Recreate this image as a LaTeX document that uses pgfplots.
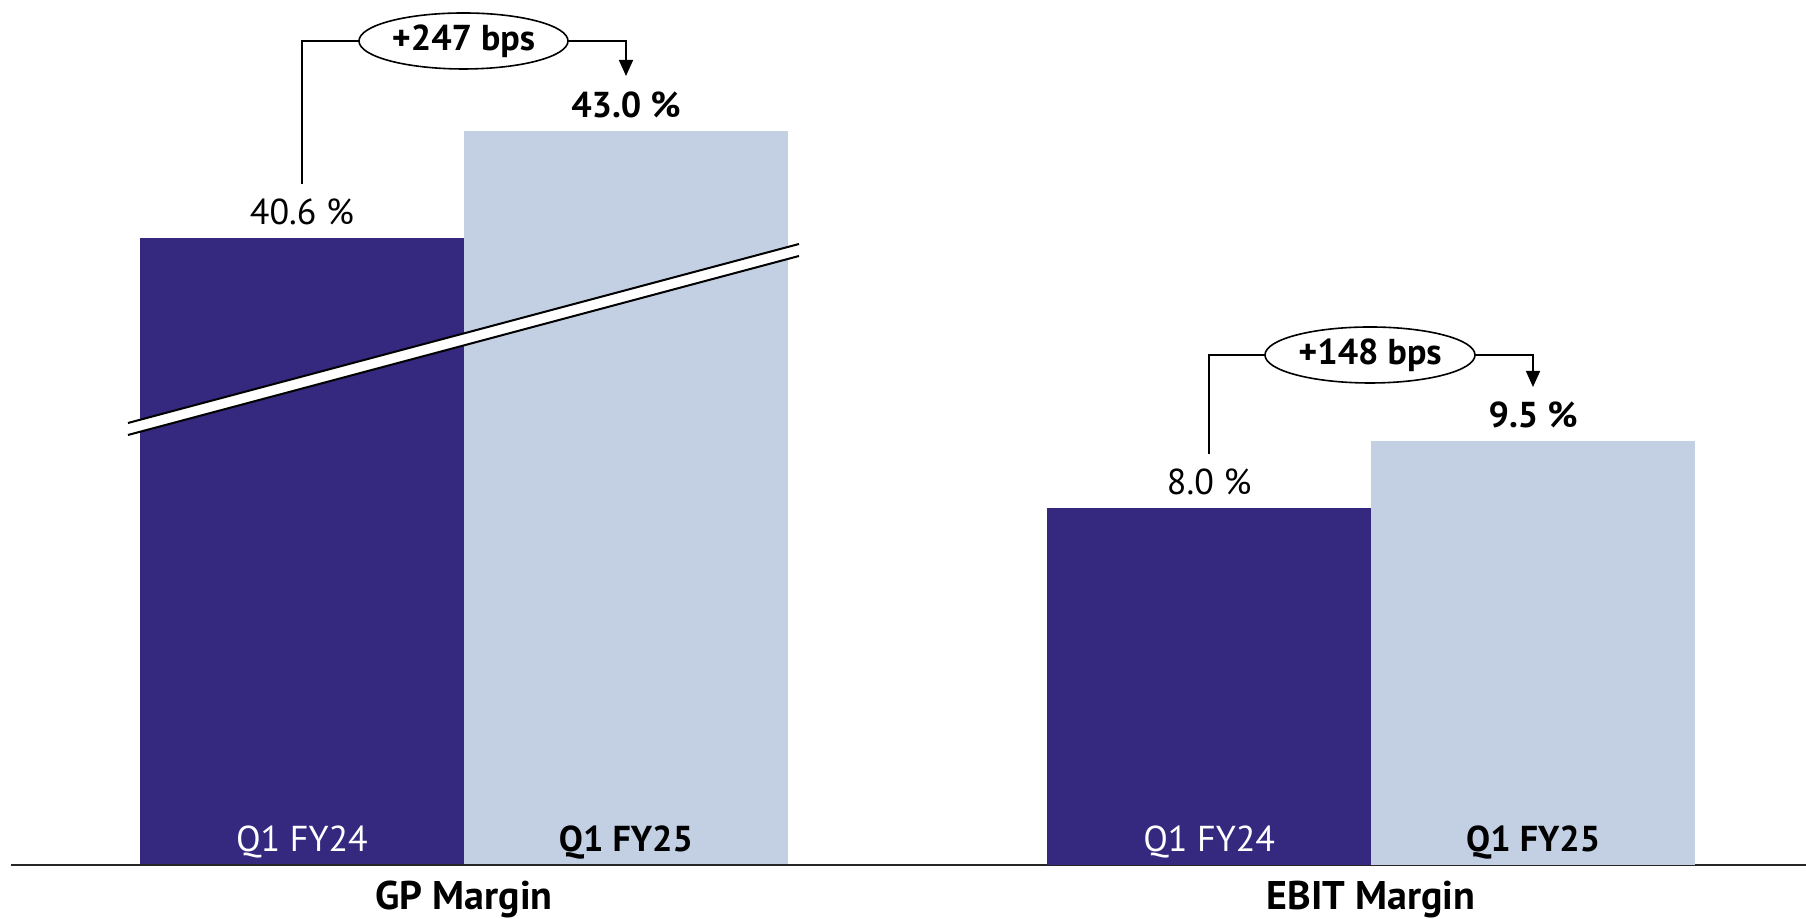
\documentclass[border=0pt]{standalone}
\usepackage{fontspec}
\setmainfont{PT Sans}
\usepackage{pgfplots}
\pgfplotsset{compat=1.18}
\usetikzlibrary{arrows.meta}
\definecolor{darkp}{HTML}{35287F}
\definecolor{lightb}{HTML}{C3CFE2}
\newcommand{\fs}{\fontsize{18}{22}\selectfont}
\newcommand{\fl}{\fontsize{20}{24}\selectfont}

\pgfplotsset{
  base/.style={
    scale only axis, width=897.5pt, height=432.5pt,
    at={(5.5pt,27pt)}, anchor=south west,
    xmin=-0.898, xmax=4.642,
    ybar, bar width=1, /pgf/bar shift=0pt,
    ytick=\empty,
    major tick length=0pt,
    font=\fs,
    nodes near coords={\pgfmathprintnumber[fixed,precision=1,fixed zerofill,assume math mode=true]{\pgfplotspointmeta}~\%},
    every node near coord/.append style={anchor=base, inner sep=0pt, yshift=6.7pt, text=black, font=\fs},
  },
  fy24/.style={fill=darkp, draw=none},
  fy25/.style={fill=lightb, draw=none, every node near coord/.append style={font=\fs\bfseries}},
}

\begin{document}
\begin{tikzpicture}[x=1pt,y=1pt]
\useasboundingbox (0,0) rectangle (903,459.5);

% GP Margin (broken axis: same scale, offset baseline)
\begin{axis}[base, hide axis, ymin=26.54, ymax=45.935]
  \addplot[fy24] coordinates {(0,40.6)};
  \addplot[fy25] coordinates {(1,43.0)};
\end{axis}

% EBIT Margin
\begin{axis}[base, ymin=0, ymax=19.395,
    axis x line*=bottom, axis y line=none,
    axis line style={line width=1pt, black!85},
    xtick={0.5,3.3}, xticklabels={GP Margin, EBIT Margin},
    xticklabel style={font=\fl\bfseries, anchor=base, yshift=-22.5pt}]
  \addplot[fy24] coordinates {(2.8,8.0)};
  \addplot[fy25] coordinates {(3.8,9.5)};
  \node[anchor=base, text=white, font=\fs] at (axis cs:0,0) [yshift=6.5pt] {Q1 FY24};
  \node[anchor=base, text=black, font=\fs\bfseries] at (axis cs:1,0) [yshift=6.5pt] {Q1 FY25};
  \node[anchor=base, text=white, font=\fs] at (axis cs:2.8,0) [yshift=6.5pt] {Q1 FY24};
  \node[anchor=base, text=black, font=\fs\bfseries] at (axis cs:3.8,0) [yshift=6.5pt] {Q1 FY25};
\end{axis}

% decorations in reference pixel coordinates
\begin{scope}[x=0.5pt, y=-0.5pt, shift={(0,459.5pt)}]
  % axis break band
  \fill[white] (128,423) -- (799,244) -- (799,256) -- (128,435) -- cycle;
  \draw[line width=1pt] (128,423) -- (799,244);
  \draw[line width=1pt] (128,435) -- (799,256);
  % GP bracket
  \draw[line width=0.8pt] (302,184) -- (302,41) -- (359,41);
  \draw[line width=0.8pt, -{Triangle[width=7pt,length=8pt]}] (568,41) -- (626,41) -- (626,76);
  \draw[line width=0.8pt, fill=white] (463.5,41) ellipse [x radius=52.25pt, y radius=14pt];
  \node[font=\fs\bfseries] at (463.5,41) {+247 bps};
  % EBIT bracket
  \draw[line width=0.8pt] (1209,454) -- (1209,355) -- (1265,355);
  \draw[line width=0.8pt, -{Triangle[width=7pt,length=8pt]}] (1475,355) -- (1533,355) -- (1533,387);
  \draw[line width=0.8pt, fill=white] (1370,355) ellipse [x radius=52.5pt, y radius=14pt];
  \node[font=\fs\bfseries] at (1370,355) {+148 bps};
\end{scope}
\end{tikzpicture}
\end{document}
